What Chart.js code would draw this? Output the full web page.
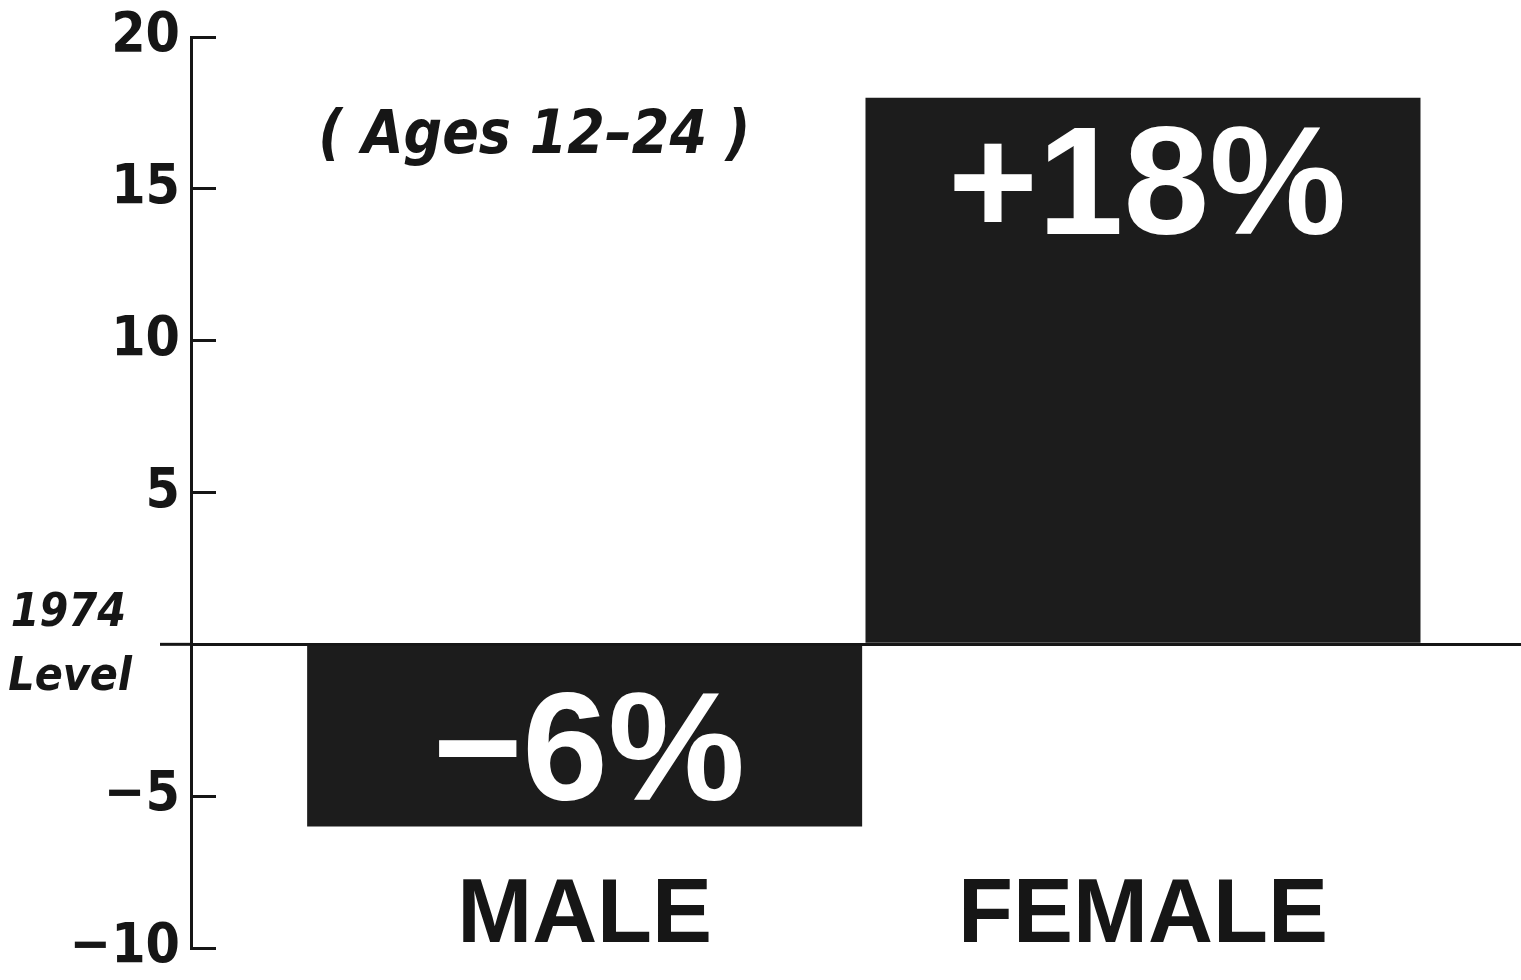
<!DOCTYPE html>
<html>
<head>
<meta charset="utf-8">
<title>Change since 1974 level, ages 12-24</title>
<script src="https://cdn.jsdelivr.net/npm/chart.js@4.4.1/dist/chart.umd.min.js"></script>
<style>
  html, body { margin: 0; padding: 0; background: #fff; }
  #wrap { width: 1521px; height: 980px; position: relative; }
</style>
</head>
<body>
<div id="wrap"><canvas id="chart"></canvas></div>
<script>
const categories = ['MALE', 'FEMALE'];
const changePct = [-6, 18];
const valueLabels = ['\u22126%', '+18%'];
const subtitle = '( Ages 12\u201324 )';
const baselineLabel = ['1974', 'Level'];

const ink = '#161616';
const narrow = '"Liberation Sans Narrow", "DejaVu Sans Condensed", "Liberation Sans", sans-serif';
const wide = '"Liberation Sans", Arial, sans-serif';

// annotations: value labels in the bars, subtitle, baseline caption
const textPlugin = {
  id: 'texts',
  afterDatasetsDraw(chart) {
    const { ctx, scales: { x, y } } = chart;
    const meta = chart.getDatasetMeta(0);
    const zero = y.getPixelForValue(0);
    ctx.save();

    // zero line runs a bit left of the axis
    ctx.strokeStyle = ink;
    ctx.lineWidth = 3;
    ctx.beginPath();
    ctx.moveTo(160, zero);
    ctx.lineTo(chart.chartArea.left, zero);
    ctx.stroke();

    ctx.fillStyle = '#fff';
    ctx.textAlign = 'center';
    ctx.textBaseline = 'middle';
    ctx.font = 'bold 154px ' + wide;
    meta.data.forEach((bar, i) => {
      const yy = changePct[i] >= 0 ? bar.y + 94 : bar.base + 112;
      ctx.fillText(valueLabels[i], bar.x + 4, yy);
    });

    ctx.fillStyle = ink;
    ctx.font = 'italic bold 60px ' + narrow;
    ctx.fillText(subtitle, x.getPixelForValue(-0.09), y.getPixelForValue(16.7));

    ctx.textAlign = 'right';
    ctx.font = 'italic bold 46px ' + narrow;
    ctx.fillText(baselineLabel[0], 126, zero - 30);
    ctx.fillText(baselineLabel[1], 132, zero + 34);
    ctx.restore();
  }
};

new Chart(document.getElementById('chart'), {
  type: 'bar',
  data: {
    datasets: [{
      data: categories.map((c, i) => ({ x: i, y: changePct[i] })),
      backgroundColor: '#1c1c1c',
      borderWidth: 0,
      categoryPercentage: 1,
      barPercentage: 0.994,
    }],
  },
  options: {
    responsive: true,
    maintainAspectRatio: false,
    animation: false,
    layout: { padding: { top: 37, right: 0, bottom: 0, left: 0 } },
    plugins: {
      legend: { display: false },
      tooltip: { enabled: false },
    },
    scales: {
      x: {
        type: 'linear',
        offset: false,
        min: -0.705,
        max: 1.677,
        afterBuildTicks: (scale) => { scale.ticks = categories.map((c, i) => ({ value: i })); },
        afterFit: (scale) => { scale.height = 32; },
        grid: { display: false, drawTicks: false },
        border: { display: false },
        ticks: {
          autoSkip: false,
          maxRotation: 0,
          mirror: true, // keeps the labels from being clipped to the axis box
          padding: -14,
          color: ink,
          font: { family: wide, size: 90, weight: 'bold', lineHeight: 1 },
          callback: (v) => categories[v] ?? '',
        },
      },
      y: {
        min: -10,
        max: 20,
        afterFit: (scale) => {
          scale.width = 191;
          scale.paddingTop = 0;
          scale.paddingBottom = 0;
        },
        border: { display: true, color: ink, width: 3 },
        grid: {
          color: (c) => (c.tick && c.tick.value === 0 ? ink : 'rgba(0,0,0,0)'),
          lineWidth: 3,
          tickColor: ink,
          tickWidth: 3,
          tickLength: -25,
        },
        ticks: {
          stepSize: 5,
          padding: 36,
          color: ink,
          font: { family: narrow, size: 55, weight: 'bold', lineHeight: 1 },
          callback: (v) => (v === 0 ? '' : v < 0 ? '\u2212' + Math.abs(v) : String(v)),
        },
      },
    },
  },
  plugins: [textPlugin],
});
</script>
</body>
</html>
